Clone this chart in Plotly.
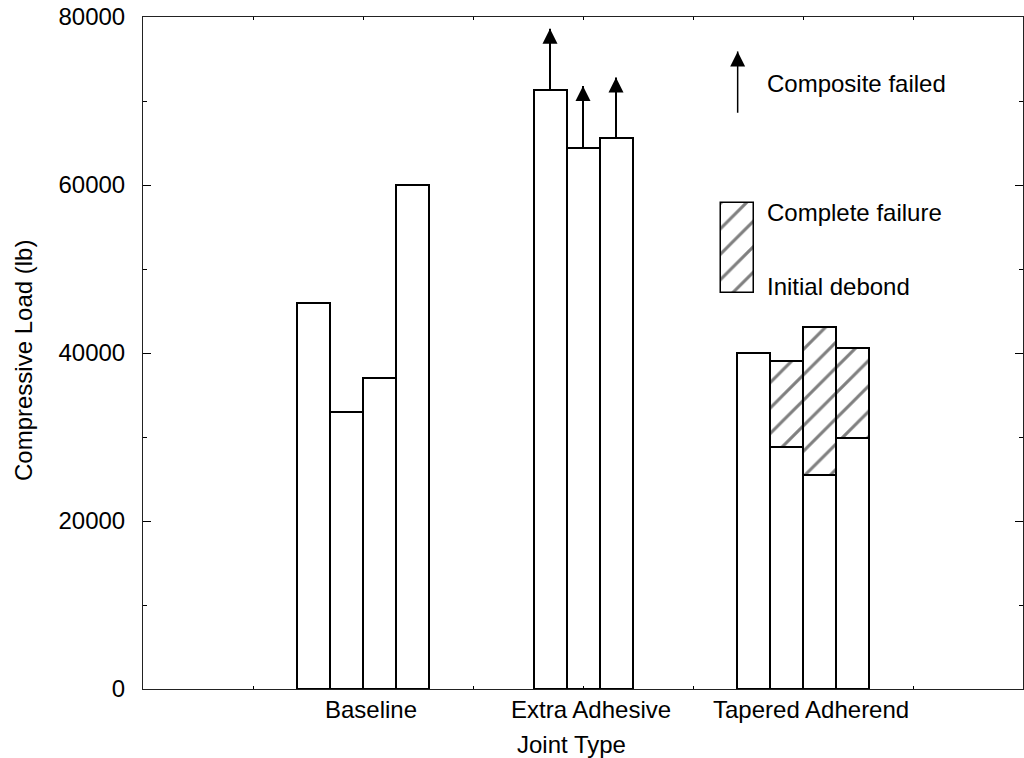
import plotly.graph_objects as go

# ---- data ----
groups = ["Baseline", "Extra Adhesive", "Tapered Adherend"]
baseline_loads = [46000, 33000, 37000, 60000]
extra_loads = [71300, 64400, 65600]
extra_arrow_tips = [78600, 71800, 72800]
tapered_initial = [40000, 28800, 25500, 29900]
tapered_complete = [None, 39000, 43100, 40600]
legend_labels = ["Composite failed", "Complete failure", "Initial debond"]
legend_arrow = [68600, 75900]
legend_box = [47200, 57900]

BAR_W = 0.15
FONT = dict(family="Liberation Sans, Arial, Helvetica, sans-serif", size=24, color="black")


def offsets(n):
    return [(i - (n - 1) / 2) * BAR_W for i in range(n)]


fig = go.Figure()

bar_style = dict(marker=dict(color="white", line=dict(color="black", width=2)),
                 width=BAR_W, showlegend=False, hoverinfo="skip")

x_base = [1 + o for o in offsets(len(baseline_loads))]
x_extra = [2 + o for o in offsets(len(extra_loads))]
x_tap = [3 + o for o in offsets(len(tapered_initial))]

fig.add_trace(go.Bar(x=x_base, y=baseline_loads, **bar_style))
fig.add_trace(go.Bar(x=x_extra, y=extra_loads, **bar_style))
fig.add_trace(go.Bar(x=x_tap, y=tapered_initial, **bar_style))

hatch = dict(shape="/", fgcolor="black", bgcolor="white", size=18, solidity=0.17)
hx, hb, hy = [], [], []
for x, lo, hi in zip(x_tap, tapered_initial, tapered_complete):
    if hi is not None:
        hx.append(x)
        hb.append(lo)
        hy.append(hi - lo)
fig.add_trace(go.Bar(x=hx, y=hy, base=hb, width=BAR_W,
                     marker=dict(color="white", line=dict(color="black", width=2), pattern=hatch),
                     showlegend=False, hoverinfo="skip"))

# legend hatched box
LEG_X_BOX = 2.703
fig.add_trace(go.Bar(x=[LEG_X_BOX], y=[legend_box[1] - legend_box[0]], base=[legend_box[0]], width=BAR_W,
                     marker=dict(color="white", line=dict(color="black", width=1.5), pattern=hatch),
                     showlegend=False, hoverinfo="skip"))

# arrows on extra adhesive bars
for x, top, tip in zip(x_extra, extra_loads, extra_arrow_tips):
    fig.add_trace(go.Scatter(x=[x, x], y=[top, tip], mode="lines",
                             line=dict(color="black", width=2), showlegend=False, hoverinfo="skip"))
fig.add_trace(go.Scatter(x=x_extra, y=extra_arrow_tips, mode="markers",
                         marker=dict(symbol="arrow-up", size=15, color="black", line=dict(width=0)),
                         showlegend=False, hoverinfo="skip"))

# legend arrow
fig.add_trace(go.Scatter(x=[LEG_X_BOX, LEG_X_BOX], y=legend_arrow, mode="lines",
                         line=dict(color="black", width=1.5), showlegend=False, hoverinfo="skip"))
fig.add_trace(go.Scatter(x=[LEG_X_BOX], y=[legend_arrow[1]], mode="markers",
                         marker=dict(symbol="arrow-up", size=15, color="black", line=dict(width=0)),
                         showlegend=False, hoverinfo="skip"))

annotations = []
for i, g in enumerate(groups):
    annotations.append(dict(x=i + 1, y=0, xref="x", yref="paper", text=g, showarrow=False,
                            xanchor="center", yanchor="middle", xshift=8, yshift=-20, font=FONT))
annotations.append(dict(x=0.5, y=0, xref="paper", yref="paper", text="Joint Type", showarrow=False,
                        xanchor="center", yanchor="middle", xshift=-12, yshift=-55, font=FONT))
annotations.append(dict(x=0, y=0.5, xref="paper", yref="paper", text="Compressive Load (lb)",
                        showarrow=False, textangle=-90, xanchor="center", yanchor="middle",
                        xshift=-120, yshift=-8, font=FONT))
for txt, yv in zip(legend_labels, [72100, 56700, 47900]):
    annotations.append(dict(x=2.828, y=yv, xref="x", yref="y", text=txt, showarrow=False,
                            xanchor="left", yanchor="middle", font=FONT))

fig.update_layout(
    width=1024, height=758,
    margin=dict(l=143, r=1, t=17, b=69),
    paper_bgcolor="white", plot_bgcolor="white",
    barmode="overlay", bargap=0,
    font=FONT,
    annotations=annotations,
    xaxis=dict(range=[0, 4], showgrid=False, zeroline=False, showticklabels=False,
               tick0=0, dtick=0.5, ticks="inside", ticklen=3, tickcolor="black",
               showline=True, linecolor="#222", linewidth=1, mirror="ticks"),
    yaxis=dict(range=[0, 80000], showgrid=False, zeroline=False,
               tick0=0, dtick=20000, ticks="inside", ticklen=8, tickcolor="black",
               minor=dict(dtick=10000, ticks="inside", ticklen=4, tickcolor="black"),
               showline=True, linecolor="#222", linewidth=1, mirror="ticks",
               tickfont=FONT, tickformat="d", ticklabelstandoff=12),
)

fig.write_html("out.html")
